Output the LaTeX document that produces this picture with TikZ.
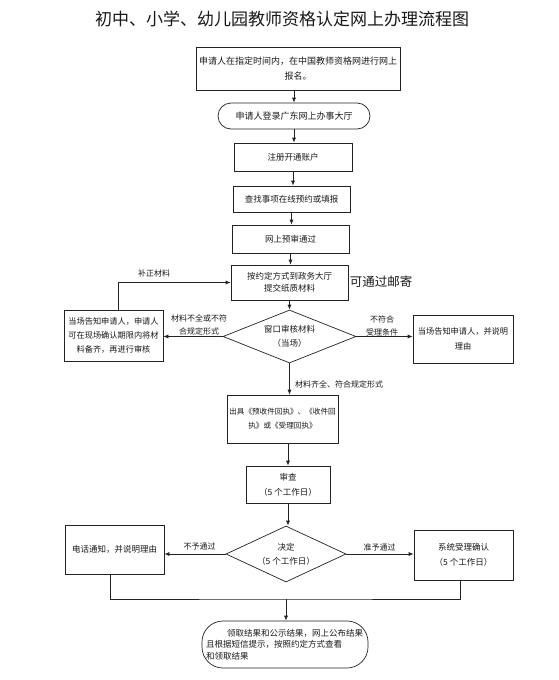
\documentclass[tikz,border=0pt]{standalone}
\usepackage{fontspec}
\setmainfont{Noto Sans CJK SC}
\usepackage{tikz}
\usepackage{xcolor}
\usetikzlibrary{
    shapes.geometric,
    arrows.meta,
    calc
  }
\definecolor{linecolor}{RGB}{35,35,35}
\definecolor{textcolor}{RGB}{25,25,25}
\tikzset{
  stepbox/.style={
    draw=linecolor, line width=0.7pt, align=center, inner sep=0pt,
    text=textcolor, font=\fontsize{8.5}{14}\selectfont
  },
  roundbox/.style={
    stepbox, rounded corners=13pt
  },
  checkbox/.style={
    stepbox, diamond, aspect=2.4
  },
  note/.style={
    align=center, inner sep=0pt, text=textcolor,
    font=\fontsize{8}{13}\selectfont
  },
  connector/.style={
    draw=linecolor, line width=0.7pt
  },
  arrow/.style={
    connector, -{Latex[length=5pt,width=4pt]}
  }
}

\begin{document}
\begin{tikzpicture}[x=1pt, y=-1pt]

\path[use as bounding box,fill=white] (0,0) rectangle (558,680);

\path[]
  (282,19) node[text=textcolor,font=\fontsize{17}{20}\selectfont] (title) {初中、小学、幼儿园教师资格认定网上办理流程图}
;

\path[]
  (298,68.5) node[stepbox,minimum width=204,minimum height=43,font=\fontsize{9}{15}\selectfont] (box_apply) {申请人在指定时间内，在中国教师资格网进行网上\\报名。}
;
\path[]
  (294,116) node[roundbox,minimum width=152,minimum height=26,font=\fontsize{9}{15}\selectfont] (box_login) {申请人登录广东网上办事大厅}
;
\path[]
  (293,157) node[stepbox,minimum width=118,minimum height=28] (box_account) {注册开通账户}
;
\path[]
  (291.5,199) node[stepbox,minimum width=117,minimum height=26] (box_book) {查找事项在线预约或填报}
;
\path[]
  (290.5,239) node[stepbox,minimum width=117,minimum height=28] (box_precheck) {网上预审通过}
;
\path[]
  (289.5,282.5) node[stepbox,minimum width=117,minimum height=35,font=\fontsize{8.5}{12}\selectfont] (box_submit) {按约定方式到政务大厅\\提交纸质材料}
;
\path[]
  (381,282) node[inner sep=0pt,text=textcolor,font=\fontsize{12.5}{14}\selectfont] (mail) {可通过邮寄}
;
\path[]
  (289.5,336.5) node[checkbox,minimum width=133,minimum height=53] (check_window) {窗口审核材料\\（当场）}
;
\path[]
  (113.5,335.5) node[stepbox,minimum width=99,minimum height=51,font=\fontsize{8.2}{14}\selectfont] (box_fix) {当场告知申请人，申请人\\可在现场确认期限内将材\\料备齐，再进行审核}
;
\path[]
  (463,339) node[stepbox,minimum width=100,minimum height=48,font=\fontsize{8.2}{15}\selectfont] (box_reject) {当场告知申请人，并说明\\理由}
;
\path[]
  (282.5,419) node[stepbox,minimum width=111,minimum height=48,font=\fontsize{7.6}{14}\selectfont] (box_receipt) {出具《预收件回执》、《收件回\\执》或《受理回执》}
;
\path[]
  (288,484.5) node[stepbox,minimum width=84,minimum height=37,font=\fontsize{8.5}{15}\selectfont] (box_review) {审查\\（5 个工作日）}
;
\path[]
  (286,554) node[checkbox,aspect=2.1,minimum width=120,minimum height=56] (check_decide) {决定\\（5 个工作日）}
;
\path[]
  (114.5,549.5) node[stepbox,minimum width=99,minimum height=49] (box_deny) {电话通知，并说明理由}
;
\path[]
  (463.5,555) node[stepbox,minimum width=99,minimum height=50,font=\fontsize{8.5}{15}\selectfont] (box_accept) {系统受理确认\\（5 个工作日）}
;
\path[]
  (285,644.5) node[roundbox,rounded corners=21pt,minimum width=166,minimum height=47,text width=158,align=left,font=\fontsize{8.5}{11.5}\selectfont] (box_result) {\hspace*{21pt}领取结果和公示结果，网上公布结果\\且根据短信提示，按照约定方式查看\\和领取结果}
;

\path[arrow] (box_apply.south -| box_login.north) -- (box_login.north);
\path[arrow] (box_login.south) -- (box_login.south |- box_account.north);
\path[arrow] (box_account.south) -- (box_account.south |- box_book.north);
\path[arrow] (box_book.south) -- (box_book.south |- box_precheck.north);
\path[arrow] (box_precheck.south) -- (box_precheck.south |- box_submit.north);
\path[arrow] (box_submit.south) -- (box_submit.south |- check_window.north);

\path[arrow] (check_window.west) -- (check_window.west -| box_fix.east);
\path[]
  (199,324.5) node[note] (label_incomplete) {材料不全或不符\\合规定形式}
;
\path[arrow] (check_window.east) -- (check_window.east -| box_reject.west);
\path[]
  (382,326) node[note] (label_unqualified) {不符合\\受理条件}
;
\path[arrow] ($(box_fix.north)+(4.5,0)$) |- (box_submit.west);
\path[]
  (154,273) node[note] (label_supplement) {补正材料}
;

\path[arrow] (check_window.south) -- (check_window.south |- box_receipt.north);
\path[]
  (295,384) node[note,anchor=west] (label_complete) {材料齐全、符合规定形式}
;
\path[arrow] (box_review.north |- box_receipt.south) -- (box_review.north);
\path[arrow] (box_review.south) -- (box_review.south |- check_decide.north);

\path[arrow] (check_decide.west) -- (check_decide.west -| box_deny.east);
\path[]
  (199.5,546) node[note] (label_deny) {不予通过}
;
\path[arrow] (check_decide.east) -- (check_decide.east -| box_accept.west);
\path[]
  (379.5,547) node[note] (label_accept) {准予通过}
;

\coordinate (join) at (286,599);
\path[connector] ($(box_deny.south)+(-4.5,0)$) |- (join) -| ($(box_accept.south)+(-3.5,0)$);
\path[arrow] (join) -- (join |- box_result.north);

\end{tikzpicture}
\end{document}
